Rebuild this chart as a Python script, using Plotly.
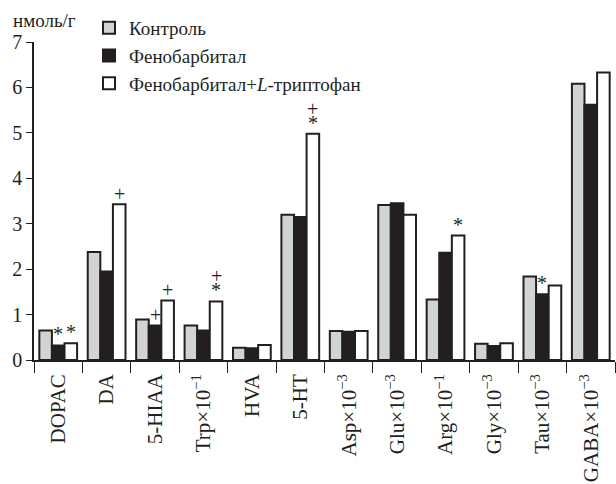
import plotly.graph_objects as go

# Metabolite labels (some values are scaled, shown in the label)
categories = [
    "DOPAC", "DA", "5-HIAA", "Trp×10<sup>−1</sup>", "HVA", "5-HT",
    "Asp×10<sup>−3</sup>", "Glu×10<sup>−3</sup>", "Arg×10<sup>−1</sup>",
    "Gly×10<sup>−3</sup>", "Tau×10<sup>−3</sup>", "GABA×10<sup>−3</sup>",
]

# Concentrations, нмоль/г
control = [0.65, 2.38, 0.89, 0.76, 0.27, 3.20, 0.64, 3.41, 1.33, 0.36, 1.84, 6.08]
phenobarbital = [0.32, 1.95, 0.76, 0.65, 0.26, 3.15, 0.62, 3.45, 2.36, 0.31, 1.45, 5.62]
phenobarbital_trp = [0.37, 3.43, 1.31, 1.29, 0.33, 4.98, 0.64, 3.20, 2.74, 0.37, 1.64, 6.33]

series_names = ["Контроль", "Фенобарбитал", "Фенобарбитал+<i>L</i>-триптофан"]
series_values = [control, phenobarbital, phenobarbital_trp]
series_fill = ["#d1d3d4", "#231f20", "#ffffff"]

# Significance marks: (category index, series index, marks from bar upward)
marks = [
    (0, 1, ["*"]),
    (0, 2, ["*"]),
    (1, 2, ["+"]),
    (2, 1, ["+"]),
    (2, 2, ["+"]),
    (3, 2, ["*", "+"]),
    (5, 2, ["*", "+"]),
    (8, 2, ["*"]),
    (10, 1, ["*"]),
]

FONT = "Liberation Serif"
INK = "#231f20"

W, H = 616, 484
L, R, T, B = 34, 1, 42, 124
plot_w = W - L - R
plot_h = H - T - B
BARGAP = 0.22
bar_px = plot_w / len(categories) * (1 - BARGAP) / 3

fig = go.Figure()
for name, vals, fill in zip(series_names, series_values, series_fill):
    fig.add_trace(go.Bar(
        x=categories, y=vals, name=name,
        marker=dict(color=fill, line=dict(color=INK, width=2)),
    ))

for ci, si, syms in marks:
    val = series_values[si][ci]
    for level, s in enumerate(syms):
        fig.add_annotation(
            x=categories[ci], y=val, xref="x", yref="y",
            text=s, showarrow=False,
            xshift=(si - 1) * bar_px,
            yshift=(11 if s == "*" else 10) + level * 15,
            font=dict(family=FONT, size=20, color=INK),
        )

fig.add_annotation(
    x=(11 - L) / plot_w, y=1 + (T - 21) / plot_h,
    xref="paper", yref="paper", xanchor="left", yanchor="middle",
    text="нмоль/г", showarrow=False,
    font=dict(family=FONT, size=19, color=INK),
)

fig.update_layout(
    width=W, height=H,
    margin=dict(l=L, r=R, t=T, b=B, pad=0),
    paper_bgcolor="white", plot_bgcolor="white",
    barmode="group", bargap=BARGAP, bargroupgap=0,
    font=dict(family=FONT, size=19, color=INK),
    showlegend=True,
    legend=dict(
        x=(89 - L) / plot_w, y=1 + (T - 9) / plot_h,
        xanchor="left", yanchor="top",
        bgcolor="rgba(0,0,0,0)", borderwidth=0,
        font=dict(family=FONT, size=19, color=INK),
        tracegroupgap=0,
    ),
    xaxis=dict(
        type="category", showgrid=False, zeroline=False, automargin=False,
        showline=True, linecolor=INK, linewidth=1.5,
        ticks="outside", tickson="boundaries", ticklen=11, tickwidth=1.2,
        tickcolor=INK, tickangle=-90, ticklabelstandoff=4,
        tickfont=dict(family=FONT, size=21, color=INK),
    ),
    yaxis=dict(
        range=[0, 7], dtick=1, showgrid=False, zeroline=False, automargin=False,
        showline=True, linecolor=INK, linewidth=1.5,
        ticks="outside", ticklen=6, tickwidth=1.2, tickcolor=INK,
        tickfont=dict(family=FONT, size=20, color=INK),
    ),
)

fig.write_html("out.html")
